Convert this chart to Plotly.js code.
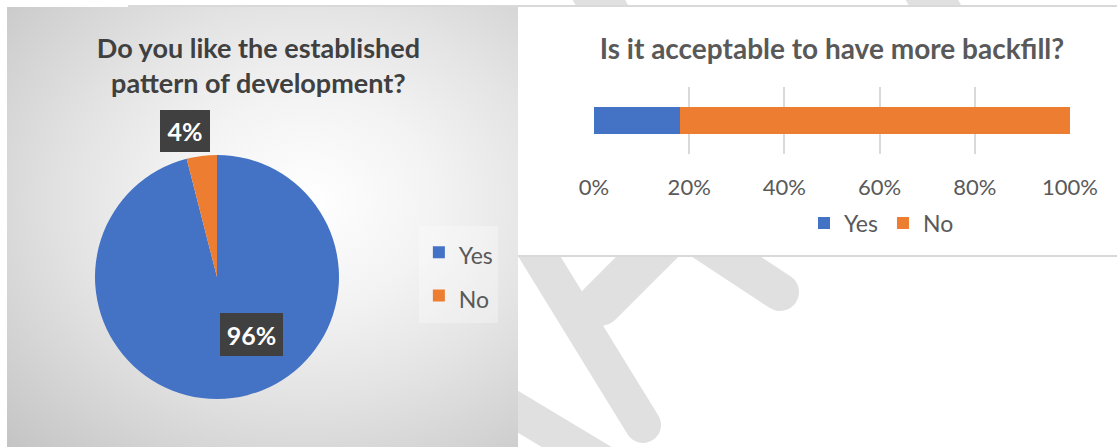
<!DOCTYPE html>
<html>
<head>
<meta charset="utf-8">
<script src="https://cdn.plot.ly/plotly-3.0.1.min.js"></script>
<style>
  html, body { margin:0; padding:0; background:#ffffff; width:1117px; height:447px; overflow:hidden; }
  #stage { position:relative; width:1117px; height:447px; }
  #wm { position:absolute; left:0; top:0; }
  #rightbox { position:absolute; left:128px; top:5px; width:989px; height:248px; background:#ffffff;
              border-top:2px solid #d9d9d9; border-bottom:2px solid #d9d9d9; }
  #leftbox { position:absolute; left:7px; top:7px; width:511px; height:440px;
             background: radial-gradient(ellipse farthest-corner at 59% 44%, #ffffff 0%, #f3f3f3 30%, #e4e4e4 55%, #c4c4c4 100%); }
  #pie { position:absolute; left:7px; top:7px; width:511px; height:440px; }
  #bar { position:absolute; left:520px; top:7px; width:597px; height:248px; }
</style>
</head>
<body>
<div id="stage">
  <svg id="wm" width="1117" height="447">
    <g stroke="#e0e0e0" stroke-linecap="round" fill="none">
      <line x1="520" y1="225" x2="643" y2="425" stroke-width="36"/>
      <line x1="690" y1="214" x2="600" y2="304" stroke-width="44"/>
      <line x1="660" y1="213" x2="780" y2="292" stroke-width="38"/>
      <line x1="470" y1="383" x2="640" y2="485" stroke-width="36"/>
      <line x1="588" y1="-20" x2="610" y2="20" stroke-width="46"/>
      <line x1="921" y1="-20" x2="943" y2="20" stroke-width="46"/>
    </g>
  </svg>
  <div id="rightbox"></div>
  <div id="leftbox"></div>
  <div id="pie"></div>
  <div id="bar"></div>
</div>
<script>
// ---------- data ----------
const pieTitle = 'Do you like the established<br>pattern of development?';
const pieLabels = ['Yes', 'No'];
const pieValues = [96, 4];

const barTitle = 'Is it acceptable to have more backfill?';
const barCategory = ['Backfill'];
const barSeriesNames = ['Yes', 'No'];
const barYes = [18];
const barNo = [82];
const barTickValues = [0, 20, 40, 60, 80, 100];
const barTickLabels = ['0%', '20%', '40%', '60%', '80%', '100%'];

const seriesColors = ['#4472C4', '#ED7D31'];

// ---------- pie ----------
const FONT = 'Lato, "Open Sans", sans-serif';
const total = pieValues.reduce((a, b) => a + b, 0);
const pct = pieValues.map(v => Math.round(v / total * 100) + '%');

const labelSpots = [
  {x: 0.4785, y: 0.2557, w: 63, h: 43},   // Yes label
  {x: 0.3483, y: 0.718,  w: 50, h: 42}    // No label
];

// legend text drawn at 23px while the legend rows keep a taller spacing
const pieLegendLabels = pieLabels.map(l => '<span style="font-size:23px">' + l + '</span>');

Plotly.newPlot('pie', [{
  type: 'pie',
  labels: pieLegendLabels,
  values: pieValues,
  sort: false,
  direction: 'clockwise',
  rotation: 0,
  textinfo: 'none',
  hoverinfo: 'label+percent',
  marker: {colors: seriesColors, line: {width: 0}},
  domain: {x: [0.1722, 0.6497], y: [0.1091, 0.6636]}
}], {
  width: 511, height: 440,
  margin: {l: 0, r: 0, t: 0, b: 0},
  paper_bgcolor: 'rgba(0,0,0,0)',
  plot_bgcolor: 'rgba(0,0,0,0)',
  font: {family: FONT, color: '#595959'},
  title: {
    text: pieTitle,
    font: {family: FONT, size: 27, color: '#404040', weight: 'bold'},
    x: 0.492, xanchor: 'center',
    y: 0.884, yanchor: 'middle', yref: 'container'
  },
  showlegend: true,
  legend: {
    x: 0.806, xanchor: 'left',
    y: 0.393, yanchor: 'middle',
    font: {family: FONT, size: 31, color: '#595959'},
    bgcolor: 'rgba(255,255,255,0.3)',
    borderwidth: 0
  },
  annotations: pct.map((t, i) => ({
    text: '<b>' + t + '</b>',
    xref: 'paper', yref: 'paper',
    x: labelSpots[i].x, y: labelSpots[i].y,
    xanchor: 'center', yanchor: 'middle',
    showarrow: false,
    width: labelSpots[i].w, height: labelSpots[i].h,
    bgcolor: '#404040', borderpad: 0, borderwidth: 0,
    font: {family: FONT, size: 25, color: '#ffffff'}
  }))
}, {displayModeBar: false, staticPlot: true});

// ---------- bar ----------
const barValuesBySeries = [barYes, barNo];
Plotly.newPlot('bar', barSeriesNames.map((name, i) => ({
  type: 'bar',
  orientation: 'h',
  name: name,
  y: barCategory,
  x: barValuesBySeries[i],
  marker: {color: seriesColors[i], line: {width: 0}},
  hoverinfo: 'name+x'
})), {
  width: 597, height: 248,
  margin: {l: 74, r: 47, t: 80, b: 100},
  paper_bgcolor: 'rgba(0,0,0,0)',
  plot_bgcolor: 'rgba(0,0,0,0)',
  barmode: 'stack',
  bargap: 0.597,
  font: {family: FONT, color: '#595959'},
  title: {
    text: barTitle,
    font: {family: FONT, size: 28, color: '#595959', weight: 'bold'},
    x: 0.5, xref: 'paper', xanchor: 'center',
    y: 1 - 42 / 248, yref: 'container', yanchor: 'middle'
  },
  xaxis: {
    range: [0, 100],
    tickvals: barTickValues,
    ticktext: barTickLabels,
    showgrid: true, gridcolor: '#d9d9d9', gridwidth: 2,
    zeroline: false, showline: false, ticks: '',
    ticklabelstandoff: 18,
    tickfont: {family: FONT, size: 22, color: '#595959'},
    fixedrange: true
  },
  yaxis: {
    range: [-0.5, 0.5],
    showticklabels: false, showgrid: false, zeroline: false, showline: false,
    fixedrange: true
  },
  showlegend: true,
  legend: {
    orientation: 'h',
    x: 0.604, xanchor: 'center',
    y: -1.0, yanchor: 'middle',
    font: {family: FONT, size: 23, color: '#595959'},
    traceorder: 'normal'
  }
}, {displayModeBar: false, staticPlot: true});
</script>
</body>
</html>
